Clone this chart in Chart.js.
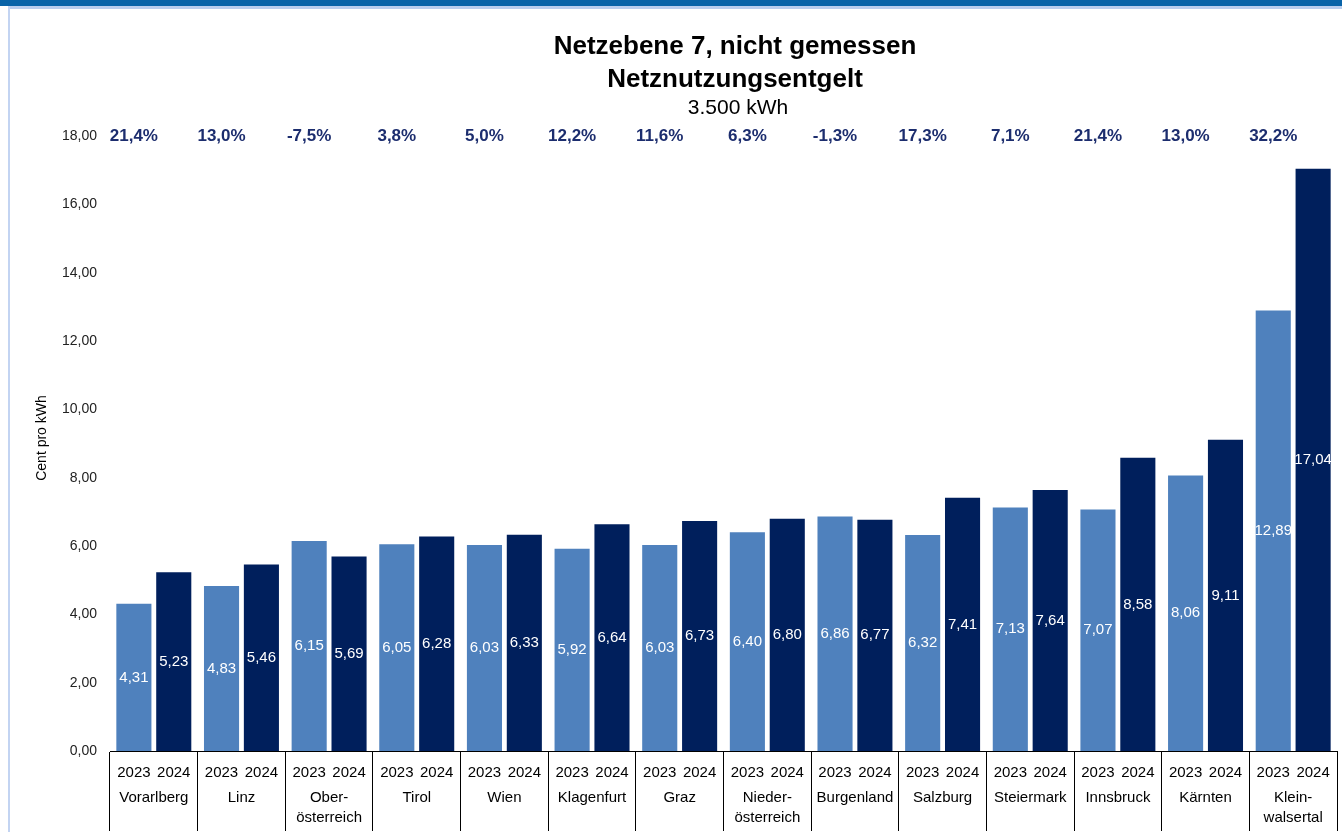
<!DOCTYPE html>
<html lang="de">
<head>
<meta charset="utf-8">
<title>Netzebene 7, nicht gemessen</title>
<script src="https://cdn.jsdelivr.net/npm/chart.js@4"></script>
<style>
  html, body { margin: 0; padding: 0; background: #fff; }
  #frame { position: absolute; left: 0; top: 0; width: 1342px; height: 832px; overflow: hidden; }
  #topbar { position: absolute; left: 0; top: 0; width: 1342px; height: 6px; background: #0863a8; }
  #topline { position: absolute; left: 8px; top: 6px; width: 1334px; height: 3px; background: #b9cdee; }
  #leftline { position: absolute; left: 8px; top: 6px; width: 2px; height: 826px; background: #c3d4f2; }
  #box { position: absolute; left: 0; top: 0; width: 1342px; height: 832px; }
</style>
</head>
<body>
<div id="frame">
  <div id="topbar"></div>
  <div id="topline"></div>
  <div id="leftline"></div>
  <div id="box"><canvas id="chart"></canvas></div>
</div>
<script>
'use strict';

// Regionen (Kategorien), mehrzeilige Beschriftung
const regions = [
  ['Vorarlberg'], ['Linz'], ['Ober-', 'österreich'], ['Tirol'], ['Wien'],
  ['Klagenfurt'], ['Graz'], ['Nieder-', 'österreich'], ['Burgenland'],
  ['Salzburg'], ['Steiermark'], ['Innsbruck'], ['Kärnten'], ['Klein-', 'walsertal'],
];

const years = ['2023', '2024'];

// Netznutzungsentgelt in Cent pro kWh
const values2023 = [4.31, 4.83, 6.15, 6.05, 6.03, 5.92, 6.03, 6.40, 6.86, 6.32, 7.13, 7.07, 8.06, 12.89];
const values2024 = [5.23, 5.46, 5.69, 6.28, 6.33, 6.64, 6.73, 6.80, 6.77, 7.41, 7.64, 8.58, 9.11, 17.04];

// Veränderung 2023 -> 2024
const changes = ['21,4%', '13,0%', '-7,5%', '3,8%', '5,0%', '12,2%', '11,6%', '6,3%', '-1,3%', '17,3%', '7,1%', '21,4%', '13,0%', '32,2%'];

const titleLines = ['Netzebene 7, nicht gemessen', 'Netznutzungsentgelt'];
const subTitle = '3.500 kWh';
const yTitle = 'Cent pro kWh';

const FONT = '"Liberation Sans", Arial, sans-serif';
const fmt = v => v.toFixed(2).replace('.', ',');

// Titel, Prozentwerte, Jahreszahlen und Werte in den Balken zeichnen
const annotations = {
  id: 'annotations',
  afterDraw(chart) {
    const { ctx, scales } = chart;
    const y = scales.y;
    ctx.save();

    // Titel
    ctx.fillStyle = '#000';
    ctx.textAlign = 'center';
    ctx.textBaseline = 'middle';
    ctx.font = `bold 26px ${FONT}`;
    ctx.fillText(titleLines[0], 735, 47);
    ctx.fillText(titleLines[1], 735, 80);
    ctx.font = `21px ${FONT}`;
    ctx.fillText(subTitle, 738, 108);

    // Achsentitel
    ctx.save();
    ctx.translate(42, 438);
    ctx.rotate(-Math.PI / 2);
    ctx.font = `14px ${FONT}`;
    ctx.fillStyle = '#000';
    ctx.fillText(yTitle, 0, 0);
    ctx.restore();

    const meta0 = chart.getDatasetMeta(0);
    const meta1 = chart.getDatasetMeta(1);

    // Prozentwerte über dem 2023-Balken
    ctx.font = `bold 17px ${FONT}`;
    ctx.fillStyle = '#1c2d6e';
    const topY = y.getPixelForValue(18);
    changes.forEach((c, i) => {
      ctx.fillText(c, meta0.data[i].x, topY);
    });

    // Jahreszahlen unter den Balken
    ctx.font = `15px ${FONT}`;
    ctx.fillStyle = '#000';
    [meta0, meta1].forEach((meta, d) => {
      meta.data.forEach(bar => {
        ctx.fillText(years[d], bar.x, y.bottom + 22);
      });
    });

    // Werte in der Balkenmitte
    ctx.font = `15px ${FONT}`;
    ctx.fillStyle = '#fff';
    [meta0, meta1].forEach((meta, d) => {
      const values = d === 0 ? values2023 : values2024;
      meta.data.forEach((bar, i) => {
        ctx.fillText(fmt(values[i]), bar.x, (bar.y + bar.base) / 2);
      });
    });

    ctx.restore();
  },
};

const ctxChart = document.getElementById('chart').getContext('2d');
new Chart(ctxChart, {
  type: 'bar',
  data: {
    labels: regions,
    datasets: [
      {
        label: years[0],
        data: values2023,
        backgroundColor: '#4f81bd',
        categoryPercentage: 0.91,
        barPercentage: 0.88,
      },
      {
        label: years[1],
        data: values2024,
        backgroundColor: '#001f5c',
        categoryPercentage: 0.91,
        barPercentage: 0.88,
      },
    ],
  },
  options: {
    responsive: true,
    maintainAspectRatio: false,
    animation: false,
    layout: { padding: { left: 0, right: 5, top: 136, bottom: 0 } },
    plugins: {
      legend: { display: false },
      title: { display: false },
      tooltip: { enabled: false },
    },
    scales: {
      x: {
        grid: {
          display: true,
          drawOnChartArea: false,
          drawTicks: true,
          tickLength: 80,
          color: '#000',
          offset: true,
        },
        border: { display: true, color: '#000', width: 1 },
        ticks: {
          color: '#000',
          font: { family: FONT, size: 15, lineHeight: 1.33 },
          padding: -43,
          maxRotation: 0,
          autoSkip: false,
        },
        afterFit: scale => { scale.height = 81; },
      },
      y: {
        min: 0,
        max: 18,
        grid: { display: false, drawTicks: false },
        border: { display: false },
        ticks: {
          stepSize: 2,
          color: '#222',
          padding: 13,
          font: { family: FONT, size: 14 },
          callback: value => fmt(value),
        },
        afterFit: scale => { scale.width = 110; },
      },
    },
  },
  plugins: [annotations],
});
</script>
</body>
</html>
